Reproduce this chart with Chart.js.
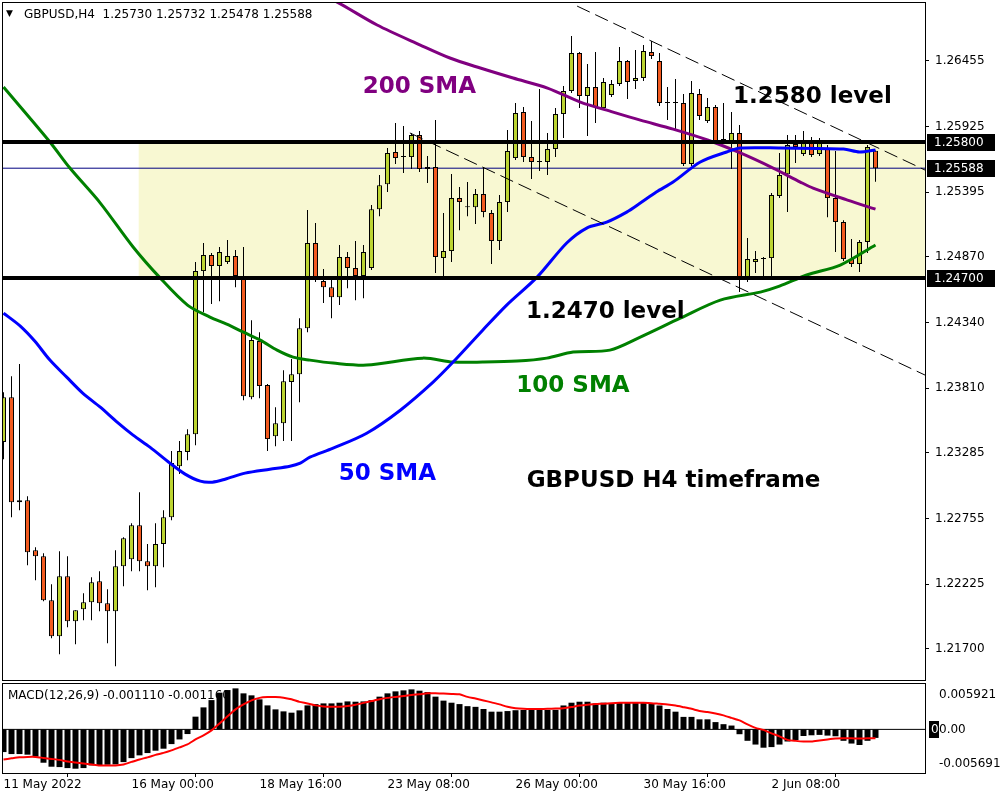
<!DOCTYPE html>
<html>
<head>
<meta charset="utf-8">
<script src="https://cdn.jsdelivr.net/npm/chart.js@4.4.1/dist/chart.umd.min.js"></script>
<style>
  html, body { margin: 0; padding: 0; background: #fff; }
  #wrap { position: relative; width: 1000px; height: 800px; }
  #price { position: absolute; left: 0; top: 0; }
  #macd { position: absolute; left: 0; top: 683px; }
</style>
</head>
<body>
<div id="wrap">
  <canvas id="price" width="1000" height="683"></canvas>
  <canvas id="macd" width="1000" height="117"></canvas>
</div>
<script>
// GBPUSD H4 candles, bar 0 = 11 May 2022
const opens = [1.23373,1.23736,1.22887,1.22903,1.22499,1.22450,1.22094,1.21802,1.22288,1.21924,
  1.22021,1.22078,1.22248,1.22070,1.22005,1.22369,1.22426,1.22701,1.22410,1.22369,
  1.22548,1.22765,1.23178,1.23292,1.23437,1.24756,1.24886,1.24797,1.24829,1.24878,
  1.24716,1.23736,1.24190,1.23834,1.23421,1.23526,1.23858,1.23922,1.24294,1.24983,
  1.24675,1.24626,1.24545,1.24870,1.24781,1.24716,1.24781,1.25257,1.25459,1.25719,
  1.25678,1.25678,1.25856,1.25581,1.25597,1.24861,1.24918,1.25346,1.25273,1.25273,
  1.25379,1.25225,1.24999,1.25314,1.25670,1.26042,1.25678,1.25638,1.25638,1.25743,
  1.26026,1.26212,1.26519,1.26172,1.26244,1.26074,1.26180,1.26269,1.26455,1.26293,
  1.26317,1.26527,1.26455,1.26115,1.26115,1.26115,1.25622,1.26188,1.25969,1.26082,
  1.25816,1.25808,1.25873,1.24683,1.24829,1.24853,1.24861,1.25363,1.25540,1.25783,
  1.25703,1.25791,1.25703,1.25751,1.25346,1.25152,1.24853,1.24813,1.24991,1.25730];
const highs = [1.23777,1.23906,1.24004,1.22935,1.22523,1.22475,1.22224,1.22491,1.22450,1.22013,
  1.22151,1.22280,1.22329,1.22183,1.22499,1.22604,1.22717,1.22968,1.22548,1.22717,
  1.22822,1.23300,1.23381,1.23477,1.24829,1.24983,1.24902,1.24951,1.25007,1.24926,
  1.24951,1.24359,1.24262,1.23842,1.23655,1.23955,1.24044,1.24375,1.25249,1.25144,
  1.24772,1.24683,1.24967,1.24910,1.24999,1.24967,1.25290,1.25532,1.25751,1.25953,
  1.25929,1.25873,1.25889,1.25686,1.25977,1.25225,1.25541,1.25435,1.25476,1.25419,
  1.25597,1.25249,1.25371,1.25897,1.26115,1.26082,1.25969,1.26228,1.25873,1.26074,
  1.26252,1.26657,1.26527,1.26430,1.26527,1.26317,1.26301,1.26568,1.26463,1.26544,
  1.26584,1.26617,1.26519,1.26244,1.26309,1.26188,1.26293,1.26228,1.26155,1.26099,
  1.26115,1.26042,1.25937,1.25023,1.24918,1.24870,1.25387,1.25711,1.25856,1.25856,
  1.25889,1.25840,1.25832,1.25775,1.25727,1.25168,1.25015,1.25007,1.25775,1.25732];
const lows = [1.23235,1.22765,1.22822,1.22378,1.22256,1.22086,1.21786,1.21658,1.21875,1.21739,
  1.21932,1.21932,1.22005,1.21747,1.21560,1.22207,1.22329,1.22329,1.22175,1.22199,
  1.22361,1.22741,1.23114,1.23227,1.23348,1.24424,1.24489,1.24513,1.24813,1.24626,
  1.23712,1.23720,1.23728,1.23300,1.23340,1.23381,1.23381,1.23696,1.24262,1.24667,
  1.24497,1.24375,1.24481,1.24618,1.24521,1.24537,1.24764,1.25200,1.25395,1.25622,
  1.25549,1.25581,1.25557,1.25468,1.24740,1.24707,1.24829,1.25087,1.25200,1.25136,
  1.25192,1.24813,1.24926,1.25233,1.25654,1.25638,1.25500,1.25565,1.25532,1.25678,
  1.25832,1.26196,1.26074,1.25848,1.25953,1.26058,1.26163,1.26252,1.26147,1.26228,
  1.26293,1.26471,1.26091,1.25977,1.25897,1.25605,1.25605,1.25977,1.25953,1.25792,
  1.25792,1.25581,1.24586,1.24667,1.24740,1.24683,1.24699,1.25346,1.25233,1.25630,
  1.25686,1.25678,1.25686,1.25192,1.24910,1.24837,1.24788,1.24748,1.24902,1.25478];
const closes = [1.23736,1.22887,1.22903,1.22483,1.22450,1.22094,1.21802,1.22288,1.21924,1.22013,
  1.22078,1.22240,1.22070,1.22005,1.22369,1.22596,1.22701,1.22410,1.22369,1.22548,
  1.22765,1.23203,1.23300,1.23437,1.24756,1.24886,1.24797,1.24910,1.24878,1.24716,
  1.23744,1.24198,1.23826,1.23397,1.23526,1.23866,1.23922,1.24294,1.24983,1.24708,
  1.24626,1.24545,1.24870,1.24781,1.24716,1.24910,1.25257,1.25451,1.25711,1.25670,
  1.25678,1.25856,1.25581,1.25597,1.24870,1.24918,1.25346,1.25314,1.25273,1.25379,
  1.25233,1.24999,1.25314,1.25727,1.26034,1.25678,1.25638,1.25638,1.25743,1.26026,
  1.26212,1.26519,1.26172,1.26244,1.26082,1.26285,1.26269,1.26455,1.26285,1.26317,
  1.26536,1.26495,1.26115,1.26115,1.26115,1.25622,1.26196,1.26010,1.26082,1.25808,
  1.25816,1.25873,1.24699,1.24853,1.24853,1.24853,1.25371,1.25532,1.25775,1.25759,
  1.25791,1.25695,1.25791,1.25346,1.25152,1.24853,1.24813,1.24991,1.25759,1.25588];

// moving averages: [bar, price]
const sma50 = [[0,1.24416],[2.1,1.24311],[3.9,1.24190],[5.8,1.24036],[7.9,1.23898],[9.9,1.23769],
  [12.1,1.23655],[14.2,1.23534],[16.2,1.23429],[18.3,1.23332],[20.8,1.23203],[22.7,1.23114],
  [24.6,1.23057],[26.1,1.23049],[27.7,1.23073],[30.2,1.23122],[33.3,1.23154],[35.8,1.23178],
  [37.1,1.23203],[38.3,1.23251],[41.2,1.23324],[45.4,1.23445],[49.6,1.23631],[53.7,1.23858],
  [56.2,1.24020],[59.9,1.24278],[62.9,1.24481],[66.7,1.24707],[70.4,1.24983],[72.9,1.25104],
  [75.4,1.25152],[77.9,1.25233],[79.6,1.25306],[81.6,1.25395],[83.7,1.25476],[87.1,1.25638],
  [90.4,1.25719],[92.1,1.25751],[97.1,1.25751],[105,1.25743],[107,1.25719],[109,1.25735]];
const sma100 = [[0,1.26244],[5.8,1.25800],[8.3,1.25589],[12.1,1.25306],[16.2,1.24951],[19.6,1.24699],
  [23,1.24481],[25.8,1.24384],[27.9,1.24327],[30,1.24262],[32.1,1.24198],[34.2,1.24117],
  [36.2,1.24060],[38.3,1.24036],[41.2,1.24012],[45.4,1.23996],[52.4,1.24052],[56.2,1.24020],
  [59.9,1.24020],[64.2,1.24028],[67.9,1.24052],[71.2,1.24101],[75.8,1.24117],[79.6,1.24222],
  [84.6,1.24375],[89.6,1.24521],[94.6,1.24586],[97,1.24634],[100.4,1.24724],[104.6,1.24805],
  [109,1.24967]];
const sma200 = [[39.2,1.26988],[41.2,1.26948],[46.7,1.26746],[52.1,1.26584],[55.8,1.26479],
  [59.6,1.26398],[63.7,1.26317],[68,1.26236],[72.1,1.26123],[76.2,1.26042],[79.6,1.25977],
  [83.7,1.25904],[88,1.25816],[92.1,1.25711],[96.2,1.25589],[99.6,1.25476],[101.2,1.25427],
  [105.5,1.25330],[109,1.25257]];

// drawn objects
const levels = [1.25800, 1.24700];
const bidPrice = 1.25588;
const zoneStartBar = 16.9;
const channelUpper = [[71.7,1.26899],[115.19,1.25573]];
const channelLower = [[50.8,1.25873],[115.19,1.23915]];

const priceTicks = [1.26455,1.25925,1.25395,1.24870,1.24340,1.23810,1.23285,1.22755,1.22225,1.21700];
const timeTickBars = [0,16,32,48,64,80,96];
const timeTickLabels = ['11 May 2022','16 May 00:00','18 May 16:00','23 May 08:00','26 May 00:00','30 May 16:00','2 Jun 08:00'];

// MACD(12,26,9)
const macdHist = [-0.00296,-0.00322,-0.00322,-0.00330,-0.00356,-0.00435,-0.00487,-0.00492,-0.00505,-0.00513,
  -0.00505,-0.00470,-0.00470,-0.00461,-0.00457,-0.00427,-0.00375,-0.00339,-0.00309,-0.00278,
  -0.00252,-0.00192,-0.00131,-0.00061,0.00166,0.00287,0.00382,0.00479,0.00513,0.00535,
  0.00470,0.00444,0.00392,0.00313,0.00261,0.00235,0.00218,0.00248,0.00313,0.00330,
  0.00339,0.00339,0.00348,0.00365,0.00361,0.00365,0.00382,0.00427,0.00470,0.00496,
  0.00509,0.00522,0.00505,0.00487,0.00427,0.00375,0.00348,0.00330,0.00303,0.00294,
  0.00266,0.00231,0.00231,0.00239,0.00250,0.00253,0.00253,0.00255,0.00253,0.00255,
  0.00312,0.00348,0.00361,0.00361,0.00339,0.00348,0.00343,0.00348,0.00356,0.00348,
  0.00348,0.00339,0.00312,0.00266,0.00231,0.00163,0.00163,0.00131,0.00131,0.00095,
  0.00068,0.00050,-0.00063,-0.00149,-0.00198,-0.00239,-0.00231,-0.00198,-0.00158,-0.00140,
  -0.00086,-0.00077,-0.00072,-0.00081,-0.00090,-0.00149,-0.00185,-0.00204,-0.00149,-0.00111];
const macdSignal = [-0.00392,-0.00378,-0.00365,-0.00359,-0.00359,-0.00372,-0.00385,-0.00398,-0.00418,-0.00431,
  -0.00444,-0.00457,-0.00470,-0.00470,-0.00470,-0.00457,-0.00424,-0.00392,-0.00365,-0.00333,
  -0.00307,-0.00274,-0.00235,-0.00196,-0.00131,-0.00078,-0.00013,0.00078,0.00170,0.00261,
  0.00326,0.00378,0.00411,0.00422,0.00422,0.00414,0.00392,0.00359,0.00339,0.00313,
  0.00300,0.00296,0.00296,0.00304,0.00320,0.00346,0.00369,0.00392,0.00411,0.00424,
  0.00437,0.00450,0.00459,0.00470,0.00470,0.00467,0.00463,0.00457,0.00424,0.00402,
  0.00378,0.00352,0.00326,0.00294,0.00277,0.00269,0.00266,0.00266,0.00268,0.00271,
  0.00275,0.00291,0.00312,0.00321,0.00330,0.00335,0.00342,0.00346,0.00348,0.00348,
  0.00346,0.00342,0.00333,0.00325,0.00311,0.00290,0.00268,0.00241,0.00226,0.00207,
  0.00183,0.00150,0.00117,0.00065,0.00020,-0.00007,-0.00052,-0.00091,-0.00137,-0.00150,
  -0.00158,-0.00157,-0.00144,-0.00131,-0.00120,-0.00117,-0.00117,-0.00118,-0.00117,-0.00116];
const macdRange = [-0.005691, 0.005921];
const macdTickPos = [-0.00444, 0, 0.00444];
const macdTickLabels = ['-0.005691', '0.00', '0.005921'];

const UP = '#bcd431';
const DOWN = '#f25a1f';
const FONT = 'DejaVu Sans';
const X_MIN = -0.0625, X_MAX = 115.1875;

Chart.defaults.font.family = FONT;
Chart.defaults.font.size = 12;
Chart.defaults.color = '#000';

const pts = list => list.map(p => ({ x: p[0], y: p[1] }));
const last = opens.length - 1;

const bodyColors = opens.map((o, i) => closes[i] > o ? UP : closes[i] < o ? DOWN : '#000');

const notes = [
  { text: '200 SMA', bar: 44.9, price: 1.26244, color: '#800080' },
  { text: '1.2580 level', bar: 91.2, price: 1.26164, color: '#000' },
  { text: '1.2470 level', bar: 65.3, price: 1.24424, color: '#000' },
  { text: '100 SMA', bar: 64.1, price: 1.23826, color: '#008000' },
  { text: '50 SMA', bar: 41.9, price: 1.23114, color: '#0000ff' },
  { text: 'GBPUSD H4 timeframe', bar: 65.4, price: 1.23057, color: '#000' }
];

// keep the plot area where we put it: no extra room for edge labels
function noEdgePad(s) {
  s.paddingTop = 0; s.paddingBottom = 0; s.paddingLeft = 0; s.paddingRight = 0;
}

const frame = {
  id: 'frame',
  afterDraw(chart) {
    const { ctx, chartArea: a } = chart;
    ctx.save();
    ctx.strokeStyle = '#000';
    ctx.lineWidth = 1;
    ctx.strokeRect(a.left - 0.5, a.top - 0.5, a.right - a.left + 1, a.bottom - a.top + 1);
    ctx.restore();
  }
};

const priceDecor = {
  id: 'priceDecor',
  beforeDatasetsDraw(chart) {
    const { ctx, chartArea: a, scales: { x, y } } = chart;
    const left = x.getPixelForValue(zoneStartBar);
    const top = y.getPixelForValue(levels[0]);
    const bottom = y.getPixelForValue(levels[1]);
    ctx.save();
    ctx.fillStyle = '#f8f8d2';
    ctx.fillRect(left, top, a.right - left, bottom - top);
    ctx.restore();
  },
  afterDatasetsDraw(chart) {
    const { ctx, scales: { x, y } } = chart;
    ctx.save();
    ctx.font = 'bold 23px ' + FONT;
    ctx.textBaseline = 'middle';
    ctx.textAlign = 'left';
    notes.forEach(n => {
      ctx.fillStyle = n.color;
      ctx.fillText(n.text, x.getPixelForValue(n.bar), y.getPixelForValue(n.price));
    });
    ctx.restore();
  },
  afterDraw(chart) {
    const { ctx, scales: { y } } = chart;
    ctx.save();
    ctx.font = '12px ' + FONT;
    ctx.textBaseline = 'middle';
    [levels[0], bidPrice, levels[1]].forEach(v => {
      const py = Math.round(y.getPixelForValue(v));
      ctx.fillStyle = '#000';
      ctx.fillRect(927, py - 8, 68, 17);
      ctx.fillStyle = '#fff';
      ctx.fillText(v.toFixed(5), 934, py + 1);
    });
    ctx.fillStyle = '#000';
    ctx.font = '9px ' + FONT;
    ctx.fillText('\u25BC', 6, 14);
    ctx.font = '12px ' + FONT;
    ctx.fillText('GBPUSD,H4  ' + [opens[last], highs[last], lows[last], closes[last]].map(v => v.toFixed(5)).join(' '), 24, 15);
    ctx.restore();
  }
};

const lineDs = (data, color, width, order, extra) => Object.assign({
  type: 'line', data: pts(data), borderColor: color, borderWidth: width,
  pointRadius: 0, fill: false, tension: 0.3, order: order
}, extra || {});

new Chart(document.getElementById('price'), {
  type: 'bar',
  data: {
    datasets: [
      lineDs([[X_MIN, bidPrice], [X_MAX, bidPrice]], '#000080', 1, 9, { tension: 0 }),
      {
        data: opens.map((_, i) => ({ x: i, y: [lows[i], highs[i]] })),
        backgroundColor: '#000', borderWidth: 0, barThickness: 1,
        grouped: false, inflateAmount: 0, order: 8
      },
      {
        data: opens.map((o, i) => ({ x: i, y: [o, closes[i]] })),
        backgroundColor: bodyColors, borderColor: '#000', borderWidth: 1,
        borderSkipped: false, barThickness: 5, minBarLength: 1,
        grouped: false, inflateAmount: 0, order: 7
      },
      lineDs(sma200, '#800080', 3, 5),
      lineDs(sma100, '#008000', 3, 4),
      lineDs(sma50, '#0000ff', 3, 3),
      lineDs([[X_MIN, levels[0]], [X_MAX, levels[0]]], '#000', 4, 2, { tension: 0 }),
      lineDs([[X_MIN, levels[1]], [X_MAX, levels[1]]], '#000', 4, 2, { tension: 0 }),
      lineDs(channelUpper, '#000', 1, 1, { tension: 0, borderDash: [14, 6] }),
      lineDs(channelLower, '#000', 1, 1, { tension: 0, borderDash: [14, 6] })
    ]
  },
  options: {
    responsive: false,
    animation: false,
    layout: { padding: { left: 3, top: 3, bottom: 3, right: 0 } },
    plugins: { legend: { display: false }, tooltip: { enabled: false } },
    scales: {
      x: { type: 'linear', min: X_MIN, max: X_MAX, offset: false, display: false },
      y: {
        position: 'right', min: 1.21449, max: 1.26924,
        afterFit(s) { s.width = 75; noEdgePad(s); },
        afterBuildTicks(s) { s.ticks = priceTicks.map(v => ({ value: v })); },
        ticks: { padding: 6, callback: v => v.toFixed(5), font: { size: 12 } },
        grid: { drawOnChartArea: false, tickLength: 4, color: '#000' },
        border: { display: true, color: '#000' }
      }
    }
  },
  plugins: [priceDecor, frame]
});

const macdDecor = {
  id: 'macdDecor',
  beforeDatasetsDraw(chart) {
    const { ctx } = chart;
    ctx.save();
    ctx.font = '12px ' + FONT;
    ctx.fillStyle = '#000';
    ctx.textBaseline = 'middle';
    ctx.fillText('MACD(12,26,9) ' + macdHist[last].toFixed(6) + ' ' + macdSignal[last].toFixed(6), 8, 13);
    ctx.restore();
  },
  afterDraw(chart) {
    const { ctx, scales: { y } } = chart;
    const py = Math.round(y.getPixelForValue(0));
    ctx.save();
    ctx.fillStyle = '#000';
    ctx.fillRect(929, py - 8, 10, 17);
    ctx.fillStyle = '#fff';
    ctx.font = '12px ' + FONT;
    ctx.textBaseline = 'middle';
    ctx.fillText('0', 931, py + 1);
    ctx.restore();
  }
};

new Chart(document.getElementById('macd'), {
  type: 'bar',
  data: {
    datasets: [
      {
        data: macdHist.map((v, i) => ({ x: i, y: v })),
        backgroundColor: '#000', borderWidth: 0, barThickness: 6,
        grouped: false, inflateAmount: 0, order: 3
      },
      lineDs(macdSignal.map((v, i) => [i, v]), '#ff0000', 2, 2, { tension: 0.2 }),
      lineDs([[X_MIN, 0], [X_MAX, 0]], '#000', 1, 4, { tension: 0 })
    ]
  },
  options: {
    responsive: false,
    animation: false,
    layout: { padding: { left: 3, top: 1, bottom: 0, right: 0 } },
    plugins: { legend: { display: false }, tooltip: { enabled: false } },
    scales: {
      x: {
        type: 'linear', min: X_MIN, max: X_MAX, offset: false,
        afterFit(s) { s.height = 27; noEdgePad(s); },
        afterBuildTicks(s) { s.ticks = timeTickBars.map(v => ({ value: v })); },
        ticks: { align: 'start', padding: 1, maxRotation: 0, autoSkip: false,
                 callback: (v, i) => timeTickLabels[i] },
        grid: { drawOnChartArea: false, tickLength: 4, color: '#000' },
        border: { display: true, color: '#000' }
      },
      y: {
        position: 'right', min: macdRange[0], max: macdRange[1],
        afterFit(s) { s.width = 75; noEdgePad(s); },
        afterBuildTicks(s) { s.ticks = macdTickPos.map(v => ({ value: v })); },
        ticks: { padding: 6, callback: (v, i) => macdTickLabels[i] },
        grid: { display: false },
        border: { display: true, color: '#000' }
      }
    }
  },
  plugins: [macdDecor, frame]
});
</script>
</body>
</html>
